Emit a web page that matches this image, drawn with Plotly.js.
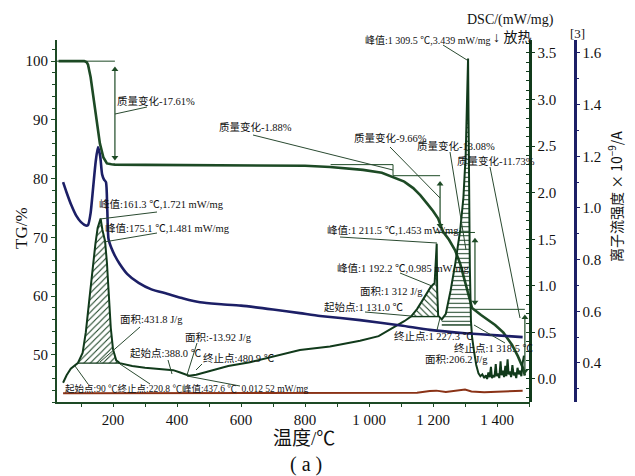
<!DOCTYPE html>
<html><head><meta charset="utf-8">
<script src="https://cdn.plot.ly/plotly-3.0.1.min.js"></script>
<style>html,body{margin:0;padding:0;background:#fff}</style>
</head><body><div id="chart" style="width:635px;height:476px"></div>
<script>
// ---- data ----
const tgT   = [30, 80, 110, 118, 122, 130, 140, 150, 159, 170, 181, 195, 206, 300, 400, 600, 800, 878, 930, 981, 1040, 1081, 1110, 1138, 1160, 1181, 1200, 1216, 1231, 1250, 1269, 1285, 1300, 1310, 1322, 1350, 1394, 1420, 1447, 1465, 1481, 1487];
const tgVal = [100, 100, 100, 99.8, 99.4, 97.3, 93.4, 89.5, 86.0, 83.6, 82.6, 82.45, 82.39, 82.35, 82.32, 82.28, 82.2, 82.0, 81.8, 81.5, 81.0, 80.2, 79.5, 78.4, 77.2, 75.8, 74.5, 73.2, 71.0, 69.6, 67.8, 65.5, 62.4, 60.0, 58.0, 56.8, 55.1, 53.8, 51.7, 49.8, 47.8, 46.5];

const dscT = [44, 55, 68, 81, 90, 105, 115, 125, 135, 145, 152, 161.3, 167, 175.1, 181, 187, 193, 200, 210, 220.8, 260, 300, 350, 388, 410, 437.6, 460, 480.9, 520, 560, 628, 700, 784, 878, 972, 1030, 1081, 1110, 1131, 1150, 1170, 1192.2, 1205, 1211.5, 1213, 1216, 1227.3, 1240, 1255, 1270, 1285, 1295, 1302, 1306, 1309.5, 1311, 1313, 1315, 1318.5, 1322, 1328, 1335, 1342, 1348, 1354, 1360, 1365, 1369, 1373, 1377, 1381, 1384, 1388, 1392, 1396, 1399, 1403, 1407, 1411, 1414, 1418, 1422, 1426, 1429, 1433, 1436, 1440, 1444, 1448, 1452, 1456, 1460, 1464, 1468, 1472, 1476, 1480, 1484];
const dscVal = [-0.04, 0.04, 0.11, 0.15, 0.17, 0.28, 0.5, 0.82, 1.15, 1.45, 1.62, 1.721, 1.6, 1.481, 1.25, 0.9, 0.55, 0.32, 0.2, 0.17, 0.14, 0.12, 0.105, 0.095, 0.07, 0.035, 0.045, 0.065, 0.1, 0.14, 0.18, 0.24, 0.31, 0.35, 0.41, 0.46, 0.56, 0.62, 0.67, 0.75, 0.86, 0.985, 1.03, 1.453, 0.95, 0.68, 0.64, 0.7, 0.95, 1.25, 1.6, 1.95, 2.4, 2.9, 3.439, 2.8, 1.8, 1.2, 0.62, 0.45, 0.3, 0.15, 0.06, 0.03, 0.05, 0.01, 0.04, 0.0, 0.07, 0.02, 0.13, 0.01, 0.04, 0.02, 0.16, 0.03, 0.06, 0.01, 0.19, 0.04, 0.09, 0.02, 0.14, 0.03, 0.21, 0.05, 0.08, 0.02, 0.15, 0.04, 0.07, 0.01, 0.12, 0.05, 0.09, 0.03, 0.17, 0.25];

const ionT   = [44, 55, 70, 85, 100, 115, 122, 130, 138, 146, 153, 160, 166, 172, 178, 182, 186, 195, 206, 220, 244, 280, 320, 369, 420, 472, 528, 600, 700, 784, 847, 972, 1100, 1190, 1300, 1400, 1480];
const ionVal = [1.10, 1.06, 1.01, 0.97, 0.945, 0.932, 0.934, 0.98, 1.08, 1.18, 1.236, 1.20, 1.13, 1.11, 1.10, 1.00, 0.88, 0.845, 0.815, 0.785, 0.745, 0.71, 0.685, 0.668, 0.65, 0.635, 0.628, 0.622, 0.607, 0.593, 0.582, 0.566, 0.545, 0.528, 0.515, 0.507, 0.50];

const ion2T   = [44, 200, 400, 600, 800, 1000, 1150, 1190, 1210, 1240, 1280, 1300, 1320, 1360, 1400, 1440, 1480];
const ion2Val = [0.283, 0.283, 0.283, 0.283, 0.283, 0.284, 0.285, 0.292, 0.293, 0.288, 0.294, 0.297, 0.29, 0.287, 0.289, 0.292, 0.293];

const massChange = [17.61, 1.88, 9.66, 13.08, 11.73];
const massStepT  = [206, 1075, 1222, 1331, 1487];
const refStartT  = [25, 880, 1075, 1206, 1331];

const peakRanges = [[90, 220.8], [1131, 1216], [1227.3, 1318.5]];
const peakBase   = [0.17, 0.67, 0.58];
const peakHatch  = ['/', '\\', '-'];

const xTickVals = [200, 400, 600, 800, 1000, 1200, 1400];
const xTickText = ['200', '400', '600', '800', '1 000', '1 200', '1 400'];

// ---- styles ----
const SERIF = 'Liberation Serif, Noto Sans CJK SC, serif';
const SANS = 'Noto Sans CJK SC, sans-serif';
const GREEN = '#1d4a25', DGREEN = '#113a1b', NAVY = '#1c1f66', BROWN = '#8a3216';
const L = 57, T = 40, W = 518, H = 362;
const PX = p => (p - L) / W, PY = p => (T + H - p) / H;

// mass levels
const levels = [100];
massChange.forEach(m => levels.push(+(levels[levels.length - 1] - m).toFixed(2)));

const traces = [];
traces.push({x: tgT, y: tgVal, yaxis: 'y', mode: 'lines', line: {color: GREEN, width: 2.6}, hoverinfo: 'skip'});
traces.push({x: [refStartT[0], massStepT[0]], y: [levels[0], levels[0]], yaxis: 'y', mode: 'lines', line: {color: GREEN, width: 1}, hoverinfo: 'skip'});
traces.push({x: [refStartT[1], massStepT[1], massStepT[1], massStepT[2]], y: [levels[1], levels[1], levels[2], levels[2]], yaxis: 'y', mode: 'lines', line: {color: GREEN, width: 1}, hoverinfo: 'skip'});
traces.push({x: [refStartT[3], massStepT[3]], y: [levels[3], levels[3]], yaxis: 'y', mode: 'lines', line: {color: GREEN, width: 1}, hoverinfo: 'skip'});
traces.push({x: [refStartT[4], massStepT[4]], y: [levels[4], levels[4]], yaxis: 'y', mode: 'lines', line: {color: GREEN, width: 1}, hoverinfo: 'skip'});
[0, 2, 3, 4].forEach(i => {
  traces.push({x: [massStepT[i], massStepT[i]], y: [levels[i] - 1.4, levels[i + 1] + 1.2], yaxis: 'y', mode: 'lines+markers',
    line: {color: GREEN, width: 1.2}, marker: {symbol: ['triangle-up', 'triangle-down'], size: 6, color: GREEN}, hoverinfo: 'skip'});
});

peakRanges.forEach((r, i) => {
  traces.push({x: r, y: [peakBase[i], peakBase[i]], yaxis: 'y2', mode: 'lines', line: {color: DGREEN, width: 1.4}, hoverinfo: 'skip'});
  const xs = [], ys = [];
  dscT.forEach((t, k) => { if (t >= r[0] && t <= r[1]) { xs.push(t); ys.push(dscVal[k]); } });
  traces.push({x: xs, y: ys, yaxis: 'y2', mode: 'lines', line: {color: DGREEN, width: 0}, fill: 'tonexty',
    fillcolor: 'rgba(255,255,255,0)', fillpattern: {shape: peakHatch[i], fgcolor: DGREEN, bgcolor: 'rgba(255,255,255,0)', size: 4.5, solidity: 0.22}, hoverinfo: 'skip'});
});
traces.push({x: dscT, y: dscVal, yaxis: 'y2', mode: 'lines', line: {color: DGREEN, width: 2}, hoverinfo: 'skip'});
traces.push({x: ion2T, y: ion2Val, yaxis: 'y3', mode: 'lines', line: {color: BROWN, width: 2}, hoverinfo: 'skip'});
traces.push({x: ionT, y: ionVal, yaxis: 'y3', mode: 'lines', line: {color: NAVY, width: 2.6, shape: 'spline', smoothing: 0.6}, hoverinfo: 'skip'});

// ---- annotations ----
const ann = [];
function txt(left, cy, text, size, extra) {
  ann.push(Object.assign({xref: 'paper', yref: 'paper', x: PX(left), y: PY(cy), xanchor: 'left', yanchor: 'middle',
    showarrow: false, text: text, font: {family: SERIF, size: size || 10.5, color: '#111'}}, extra || {}));
}
txt(115, 101, '质量变化-17.61%');
txt(217, 127, '质量变化-1.88%');
txt(352, 138, '质量变化-9.66%');
txt(415, 146, '质量变化-13.08%');
txt(455, 161, '质量变化-11.73%');
txt(363, 40, '峰值:1 309.5 ℃,3.439 mW/mg', 10);
txt(97, 204, '峰值:161.3 ℃,1.721 mW/mg');
txt(103, 228, '峰值:175.1 ℃,1.481 mW/mg');
txt(118, 319, '面积:431.8 J/g');
txt(183, 337, '面积:-13.92 J/g');
txt(128, 353, '起始点:388.0 ℃');
txt(201, 358, '终止点:480.9 ℃');
txt(63, 388, '起始点:90 ℃终止点:220.8 ℃峰值:437.6 ℃  0.012 52 mW/mg', 9.5);
txt(325, 230, '峰值:1 211.5 ℃,1.453 mW/mg');
txt(335, 268, '峰值:1 192.2 ℃,0.985 mW/mg');
txt(358, 291, '面积:1 312 J/g');
txt(322, 307, '起始点:1 131.0 ℃');
txt(392, 336, '终止点:1 227.3 ℃');
txt(452, 348, '终止点:1 318.5 ℃');
txt(423, 359, '面积:206.2 J/g');
txt(465, 20, 'DSC/(mW/mg)', 14);
txt(491, 38, '↓ 放热', 14);
txt(568, 33, '[3]', 13);
ann.push({xref: 'paper', yref: 'paper', x: PX(21), y: PY(228), xanchor: 'center', yanchor: 'middle', textangle: -90, showarrow: false, text: 'TG/%', font: {family: SERIF, size: 17, color: '#111'}});
ann.push({xref: 'paper', yref: 'paper', x: PX(616), y: PY(197), xanchor: 'center', yanchor: 'middle', textangle: -90, showarrow: false, text: '离子流强度 × 10<sup>−9</sup>/A', font: {family: SANS, size: 14, color: '#111'}});
ann.push({xref: 'paper', yref: 'paper', x: PX(304), y: PY(439), xanchor: 'center', yanchor: 'middle', showarrow: false, borderpad: 0, text: '温度/℃', font: {family: SERIF, size: 19, color: '#111'}});
ann.push({xref: 'paper', yref: 'paper', x: PX(306), y: PY(464), xanchor: 'center', yanchor: 'middle', showarrow: false, text: '( a )', font: {family: SERIF, size: 20, color: '#111'}});

const leaders = [[115,114,147,107],[253,135,393,170],[390,147,440,198],[450,152,466,250],[490,167,520,318],[443,45,467,60],
  [100,219,157,212],[104,242,157,233],[140,327,100,362],[197,343,187,375],[168,360,172,374],[202,364,196,370],
  [75,366,88,384],[120,364,150,384],[187,376,240,386],[340,237,437,243],[400,273,432,286],[365,312,411,316],[437,330,440,318],[505,343,474,325]];
const shapes = leaders.map(s => ({type: 'line', xref: 'paper', yref: 'paper', x0: PX(s[0]), y0: PY(s[1]), x1: PX(s[2]), y1: PY(s[3]), line: {color: '#2a4a30', width: 1}}));

const tickFont = {family: SERIF, size: 15, color: '#111'};
const layout = {
  width: 635, height: 476,
  margin: {l: L, r: 635 - L - W, t: T, b: 476 - T - H},
  paper_bgcolor: '#fff', plot_bgcolor: '#fff',
  showlegend: false,
  xaxis: {domain: [0, 473 / 518], range: [25, 1503], tickmode: 'array', tickvals: xTickVals, ticktext: xTickText,
    ticks: 'outside', ticklen: 3, tickcolor: GREEN, showline: true, linecolor: GREEN, linewidth: 2,
    showgrid: false, zeroline: false, tickfont: tickFont,
    minor: {tickmode: 'linear', tick0: 0, dtick: 100, ticks: 'outside', ticklen: 3, tickcolor: GREEN, showgrid: false}},
  yaxis: {range: [42, 103.6], tickmode: 'linear', tick0: 50, dtick: 10, ticks: 'outside', ticklen: 4, tickcolor: GREEN,
    showline: true, linecolor: GREEN, linewidth: 2, showgrid: false, zeroline: false, tickfont: tickFont,
    minor: {dtick: 2, ticks: 'outside', ticklen: 3, tickcolor: GREEN, showgrid: false}},
  yaxis2: {overlaying: 'y', side: 'right', anchor: 'free', position: 473 / 518, range: [-0.247, 3.639],
    tickmode: 'linear', tick0: 0, dtick: 0.5, tickformat: '.1f', ticks: 'outside', ticklen: 3, tickcolor: DGREEN,
    showline: true, linecolor: DGREEN, linewidth: 2.5, showgrid: false, zeroline: false, tickfont: tickFont,
    minor: {dtick: 0.1, ticks: 'inside', ticklen: 3, tickcolor: DGREEN, showgrid: false}},
  yaxis3: {overlaying: 'y', side: 'right', anchor: 'free', position: 1, range: [0.249, 1.650],
    tickmode: 'linear', tick0: 0.4, dtick: 0.2, tickformat: '.1f', ticks: 'outside', ticklen: 3, tickcolor: NAVY,
    showline: true, linecolor: NAVY, linewidth: 2.5, showgrid: false, zeroline: false, tickfont: tickFont,
    minor: {dtick: 0.1, ticks: 'outside', ticklen: 2, tickcolor: NAVY, showgrid: false}},
  annotations: ann,
  shapes: shapes
};
Plotly.newPlot('chart', traces, layout, {staticPlot: true, displayModeBar: false});
</script></body></html>
